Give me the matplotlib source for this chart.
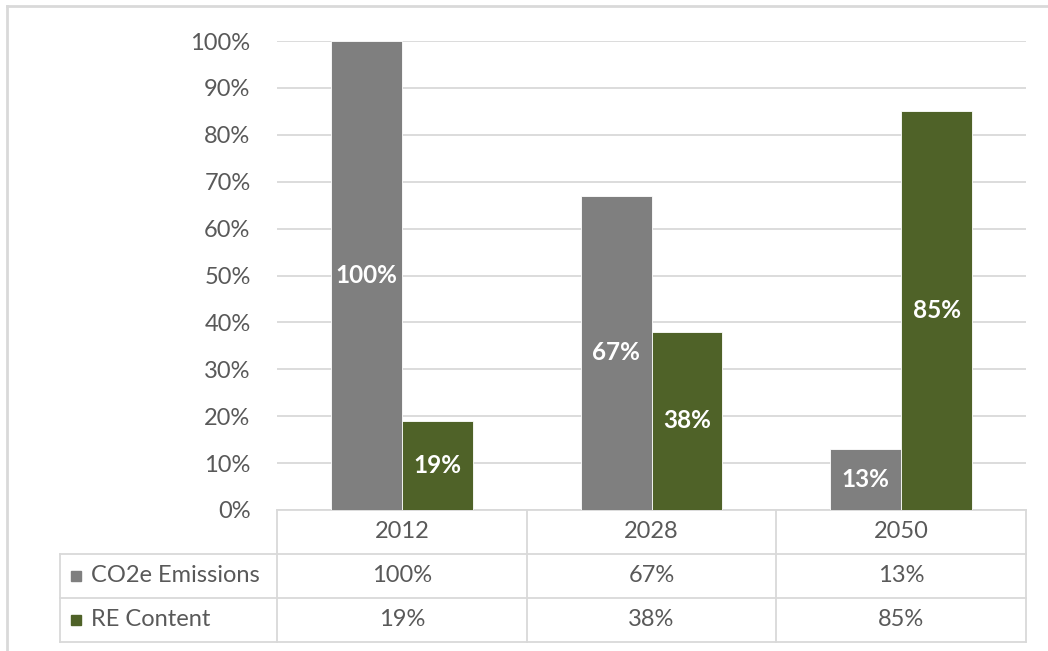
import matplotlib; matplotlib.use("Agg"); import matplotlib.pyplot as plt
import numpy as np
from matplotlib.lines import Line2D

years = ["2012", "2028", "2050"]
series_names = ["CO2e Emissions", "RE Content"]
co2 = [1.00, 0.67, 0.13]
re_content = [0.19, 0.38, 0.85]
yticks = np.arange(0, 1.01, 0.1)

GRAY = "#7F7F7F"
GREEN = "#4F6228"
TXT = "#595959"
GRID = "#D9D9D9"
FONT = ["Lato", "DejaVu Sans"]
FS = 17
FSB = 17.5

W, H = 1048, 651
fig = plt.figure(figsize=(W / 100, H / 100), dpi=100)
fig.patch.set_facecolor("white")

# plot area in pixels
px_l, px_r, px_top, px_bot = 277, 1026, 41, 510
ax = fig.add_axes([px_l / W, 1 - px_bot / H, (px_r - px_l) / W, (px_bot - px_top) / H])

x = np.arange(len(years))
bw = 0.284
ax.bar(x - bw / 2, co2, bw, color=GRAY, edgecolor="white", linewidth=0.6, zorder=3)
ax.bar(x + bw / 2, re_content, bw, color=GREEN, edgecolor="white", linewidth=0.6, zorder=3)

for xi, v in zip(x, co2):
    ax.text(xi - bw / 2, v / 2, f"{v:.0%}", ha="center", va="center", color="white",
            fontsize=FSB, fontweight="bold", family=FONT, zorder=4)
for xi, v in zip(x, re_content):
    ax.text(xi + bw / 2, v / 2, f"{v:.0%}", ha="center", va="center", color="white",
            fontsize=FSB, fontweight="bold", family=FONT, zorder=4)

ax.set_xlim(-0.5, len(years) - 0.5)
ax.set_ylim(0, 1)
ax.set_yticks(yticks)
ax.set_yticklabels([f"{t:.0%}" for t in yticks], color=TXT, fontsize=FS, family=FONT)
ax.tick_params(axis="y", length=0, pad=19)
ax.set_xticks([])
ax.grid(axis="y", color=GRID, linewidth=1.3, zorder=0)
for s in ["top", "right", "left", "bottom"]:
    ax.spines[s].set_visible(False)

# data table below the axis
row_h = 44 / (px_bot - px_top)
tr = ax.get_xaxis_transform()
left_x = -0.5 - (px_l - 60) / ((px_r - px_l) / len(years))
lk = dict(color=GRID, linewidth=1.3, transform=tr, clip_on=False)
# horizontal lines
ax.add_line(Line2D([-0.5, len(years) - 0.5], [0, 0], **lk))
for r in range(1, 4):
    ax.add_line(Line2D([left_x, len(years) - 0.5], [-r * row_h, -r * row_h], **lk))
# vertical lines
for b in np.arange(-0.5, len(years), 1.0):
    ax.add_line(Line2D([b, b], [0, -3 * row_h], **lk))
ax.add_line(Line2D([left_x, left_x], [-row_h, -3 * row_h], **lk))

tk = dict(ha="center", va="center", color=TXT, fontsize=FS, family=FONT,
          transform=tr, clip_on=False)
for xi, yr, a, b in zip(x, years, co2, re_content):
    ax.text(xi, -0.5 * row_h, yr, **tk)
    ax.text(xi, -1.5 * row_h, f"{a:.0%}", **tk)
    ax.text(xi, -2.5 * row_h, f"{b:.0%}", **tk)

for r, (name, col) in enumerate(zip(series_names, [GRAY, GREEN])):
    yy = -(1.5 + r) * row_h
    ax.plot([left_x + 0.064], [yy], marker="s", markersize=7.5, color=col,
            transform=tr, clip_on=False)
    ax.text(left_x + 0.125, yy, name, ha="left", va="center", color=TXT,
            fontsize=FS, family=FONT, transform=tr, clip_on=False)

# chart frame (top and left edges visible)
fig.add_artist(Line2D([7 / W, 1], [1 - 6 / H, 1 - 6 / H], color=GRID, linewidth=2,
                      transform=fig.transFigure))
fig.add_artist(Line2D([7 / W, 7 / W], [0, 1 - 6 / H], color=GRID, linewidth=2,
                      transform=fig.transFigure))

fig.savefig("out.png", dpi=100)
